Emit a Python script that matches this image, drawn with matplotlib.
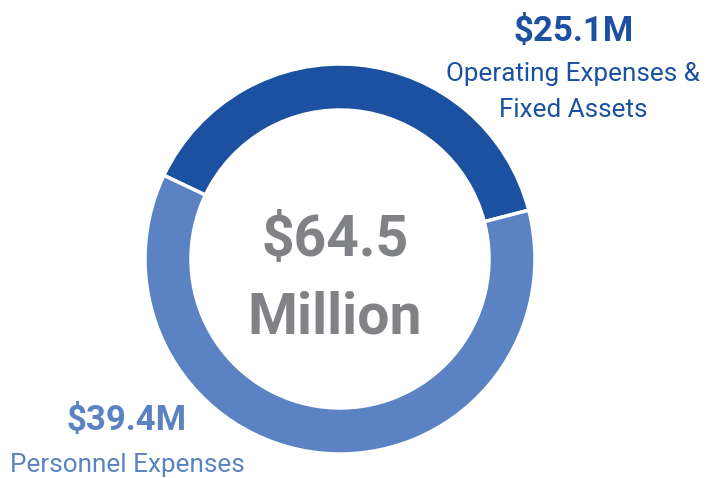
import matplotlib.pyplot as plt

labels = ['Operating Expenses &\nFixed Assets', 'Personnel Expenses']
amounts = [25.1, 39.4]  # $ millions
colors = ['#1b51a0', '#5b83c3']

W, H = 708, 478
font = ['Roboto', 'DejaVu Sans']

fig = plt.figure(figsize=(W / 100, H / 100), dpi=100)
ax = fig.add_axes([0, 0, 1, 1])

ax.pie(amounts, colors=colors, startangle=14.5, counterclock=True,
       center=(340, H - 259), radius=195, frame=True,
       wedgeprops=dict(width=46, edgecolor='white', linewidth=2.5))
ax.set_xlim(0, W)
ax.set_ylim(0, H)
ax.set_aspect('equal')
ax.axis('off')

# total in the middle of the ring
ax.text(335, H - 240, '$' + f'{sum(amounts):.1f}', ha='center', va='center',
        fontsize=41, fontweight='bold', color='#818285', family=font)
ax.text(335, H - 318, 'Million', ha='center', va='center',
        fontsize=41, fontweight='bold', color='#818285', family=font)

# slice labels
ax.text(574, H - 31, f'${amounts[0]}M', ha='center', va='center',
        fontsize=25, fontweight='bold', color=colors[0], family=font)
ax.text(573, H - 92, labels[0], ha='center', va='center',
        fontsize=18.8, color=colors[0], family=font, linespacing=1.6)
ax.text(127, H - 421, f'${amounts[1]}M', ha='center', va='center',
        fontsize=25, fontweight='bold', color=colors[1], family=font)
ax.text(127, H - 465, labels[1], ha='center', va='center',
        fontsize=18.8, color=colors[1], family=font)

fig.savefig('out.png', dpi=100)
